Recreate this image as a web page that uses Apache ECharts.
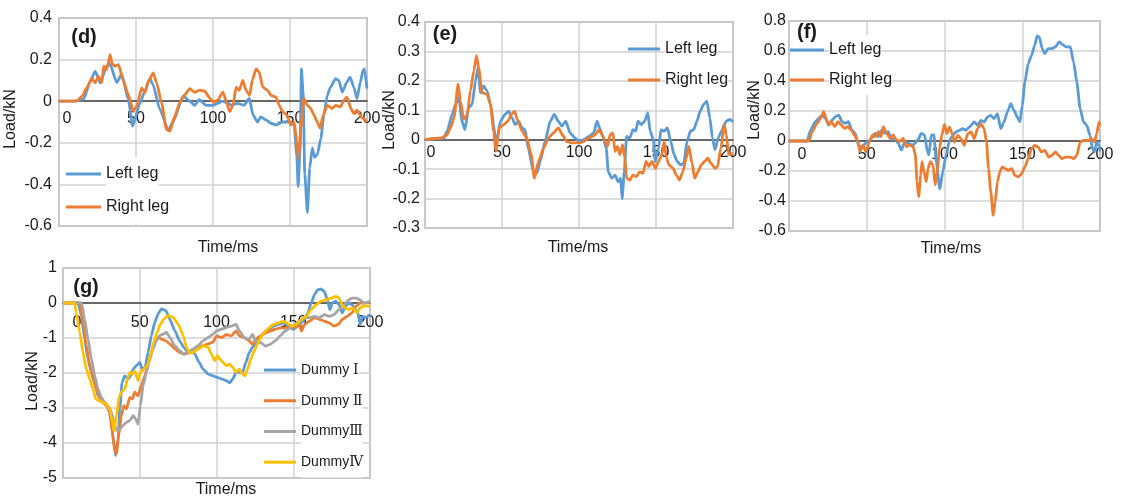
<!DOCTYPE html>
<html><head><meta charset="utf-8">
<script src="https://cdn.jsdelivr.net/npm/echarts@6/dist/echarts.min.js"></script>
<style>html,body{margin:0;padding:0;background:#fff}#c{width:1121px;height:497px}</style>
</head><body><div id="c"></div>
<script>
// ---------- data: [time (ms), load (kN)] ----------
const dLeft = [[0,0],[10,0],[16,0.01],[20,0.09],[23.5,0.144],[26.7,0.088],[31,0.168],[33,0.18],[37.5,0.09],[40.7,0.13],[45,0.01],[47.8,-0.12],[52.6,-0.01],[55.8,0.05],[59,0.11],[61,0.08],[65.5,-0.04],[71,-0.14],[74,-0.1],[80.6,0.024],[85,0],[88,-0.02],[91,0.008],[95.7,-0.02],[100,-0.02],[103,-0.01],[106,0],[110,-0.01],[112,-0.02],[116,-0.01],[120,-0.02],[123.6,0.013],[126,-0.067],[129,-0.1],[131,-0.075],[134.4,-0.09],[137.6,-0.106],[141,-0.114],[145,-0.1],[149.5,-0.1],[152.7,-0.114],[154.4,-0.26],[155.3,-0.41],[156.6,-0.225],[157.4,0.155],[158.5,0.044],[159.6,-0.35],[161.3,-0.535],[162.8,-0.32],[164.5,-0.225],[166,-0.27],[167.7,-0.257],[170,-0.18],[172,-0.067],[174.2,0.028],[176.3,0.068],[179.6,0.108],[181.7,0.1],[183.9,0.044],[187,0.092],[189,0.116],[191.4,0.068],[193.5,0.013],[195.7,0.092],[197.4,0.148],[198.3,0.155],[200,0.06]];
const dRight = [[0,0],[11.6,0],[15,0.024],[18,0.064],[21.3,0.11],[23.5,0.088],[25.6,0.12],[27.8,0.09],[29,0.168],[31,0.152],[33.2,0.224],[34.5,0.18],[36.4,0.168],[38.6,0.176],[41.8,0.096],[45,0.032],[48.3,-0.048],[50.4,-0.024],[53.7,0.064],[55.8,0.04],[58,0.096],[61.2,0.136],[63.4,0.088],[66.6,-0.008],[69.8,-0.136],[72,-0.144],[75.2,-0.072],[78.4,-0.008],[81.7,0.032],[85,0.06],[88,0.043],[91.4,0.053],[94.6,0.048],[97.8,0.016],[100,-0.005],[103,0.005],[106.5,0.044],[108.6,0],[110.8,-0.05],[113,-0.02],[115,0.068],[117,0.052],[119.4,0.1],[121.5,0.052],[123.7,0.028],[125.8,0.108],[128,0.155],[130,0.14],[132.3,0.068],[135.5,0.052],[137.6,0.028],[140.9,0.02],[143,-0.02],[145.2,-0.05],[148,-0.067],[150.5,-0.114],[152.7,-0.1],[154.4,-0.194],[155.5,-0.273],[157,-0.13],[159,0.013],[161.3,-0.02],[163.4,-0.035],[165.6,-0.067],[167.7,-0.1],[169.5,-0.13],[171.6,-0.067],[174.2,-0.02],[177.4,-0.035],[179.6,-0.02],[182.8,-0.027],[185,0.005],[187,0.02],[189.6,-0.035],[191.4,-0.06],[193.5,-0.043],[196.8,-0.08],[200,-0.1]];

const eLeft = [[0,0],[12.3,0.005],[14.4,0.03],[17.7,0.086],[19.8,0.12],[22,0.143],[24,0.063],[25.9,0.034],[28.4,0.109],[30.6,0.12],[32.8,0.2],[34.5,0.246],[36,0.16],[38,0.183],[40.3,0.166],[42.5,0.12],[44.6,0.051],[46,-0.017],[49,0.063],[52,0.086],[54.3,0.097],[56.5,0.074],[58.6,0.051],[60.8,0.063],[63,0.04],[65,0.034],[67,-0.029],[70.5,-0.109],[72.6,-0.114],[74.8,-0.074],[78,-0.006],[81.3,0.063],[84,0.086],[86.6,0.063],[88.8,0.046],[91.4,0.063],[94.2,0.023],[97.4,0.006],[100,-0.006],[103,0],[106.4,0.011],[109.6,0.023],[111.7,0.063],[113.4,0.04],[115.5,0.011],[117.7,-0.029],[119,-0.109],[121.3,-0.131],[123.4,-0.12],[125.5,-0.143],[127,-0.131],[128,-0.2],[129.4,-0.109],[130.9,0.011],[133,0.006],[135,0.034],[136.8,0.029],[138.3,0.063],[140.4,0.051],[142.6,0.063],[144.7,0.091],[146.2,0.029],[148.3,0],[149.6,-0.074],[151.7,-0.029],[153.2,0.034],[155.3,0.029],[157.4,0.04],[159.6,-0.006],[161.7,-0.051],[163.8,-0.074],[166,-0.086],[168,-0.08],[170.2,-0.006],[172.3,0.029],[174.5,0.034],[176.6,0.063],[178.7,0.097],[180.9,0.12],[183,0.131],[185,0.074],[186.6,0.006],[188.3,-0.034],[190.4,0.006],[192.6,0.029],[194.3,0.051],[195.7,0.063],[198,0.069],[200,0.06]];
const eRight = [[0,0],[10,0.005],[14,0.015],[16.6,0.04],[18.8,0.074],[21.5,0.189],[23,0.131],[25.2,0.069],[27.4,0.086],[29.5,0.166],[31.7,0.234],[33.4,0.286],[35,0.24],[37,0.16],[40.3,0.154],[42.5,0.12],[44.6,0.029],[46,-0.04],[48.3,0.04],[51,0.051],[53.9,0.063],[56,0.086],[58.2,0.097],[60.3,0.063],[63,0.029],[66,0.006],[69,-0.051],[71,-0.131],[73.7,-0.074],[77,-0.029],[80.2,0.006],[83.4,0.023],[86.6,0.04],[89.2,0.017],[92,-0.006],[95.3,-0.011],[100,-0.011],[103,-0.006],[106.4,0.006],[108.5,0.011],[110.6,0.017],[112.8,0.034],[115,0.017],[117,-0.006],[118.5,-0.023],[120.2,0.017],[122,0.023],[123.4,-0.04],[125,-0.023],[126.6,-0.051],[128.3,-0.017],[129.8,-0.063],[130.9,-0.131],[133,-0.137],[135,-0.12],[137.2,-0.126],[139.4,-0.109],[141.5,-0.114],[143.6,-0.074],[145.3,-0.091],[147.4,-0.074],[149.6,-0.097],[151.7,-0.074],[153.8,-0.051],[155.3,-0.006],[156.8,-0.063],[158.5,-0.086],[161,-0.097],[163.2,-0.12],[165.3,-0.137],[167.4,-0.109],[169.6,-0.063],[171.3,-0.023],[173.4,-0.08],[175.1,-0.131],[177.2,-0.109],[179.4,-0.086],[181.5,-0.074],[183.6,-0.063],[185.7,-0.08],[188.3,-0.097],[190,-0.091],[192.1,-0.029],[194.3,0.051],[195.7,0.017],[197.2,-0.051],[200,-0.046]];

const fLeft = [[0,0],[11.7,0],[13.8,0.073],[17,0.129],[19,0.151],[21.3,0.173],[23.4,0.151],[25.5,0.107],[27.7,0.14],[29.8,0.162],[32,0.173],[34,0.129],[36.2,0.118],[38.3,0.129],[40.4,0.073],[42.6,0.051],[44.7,-0.027],[46.8,-0.049],[49,-0.016],[51,-0.004],[53.2,0.018],[55.3,0.051],[57.4,0.029],[59.6,0.073],[61.7,0.051],[63.8,0.062],[66,0.007],[68,0.018],[70.2,-0.016],[72.3,-0.06],[74.5,-0.004],[76.6,-0.016],[79.8,-0.027],[83,0.007],[85,0.051],[87.2,0.04],[89,-0.071],[90,-0.093],[91.5,0.04],[93.2,0.04],[94.7,-0.138],[97,-0.32],[99,-0.2],[101,-0.096],[103.2,0.004],[105.3,0.038],[107.4,0.06],[109.6,0.071],[111.7,0.082],[113.8,0.071],[116,0.093],[119.1,0.127],[121.3,0.104],[123.4,0.138],[125.5,0.127],[127.7,0.16],[129.8,0.171],[131.9,0.149],[134,0.182],[136.2,0.082],[138.3,0.127],[140.4,0.193],[142.6,0.249],[144.7,0.204],[146.8,0.16],[148.5,0.127],[150,0.238],[151.7,0.393],[153.8,0.516],[156,0.571],[158,0.638],[159.6,0.7],[161,0.693],[162.8,0.616],[164.5,0.582],[166.6,0.616],[169.1,0.616],[171.3,0.627],[173.8,0.66],[176,0.642],[178,0.627],[180.9,0.627],[183,0.527],[185.1,0.393],[187.2,0.216],[189.4,0.127],[191.5,0.104],[193.6,0.038],[195.1,-0.051],[196.4,-0.073],[197.9,-0.007],[199.4,-0.029],[200,-0.07]];
const fRight = [[0,0],[12.8,0],[14.9,0.062],[18,0.118],[20.9,0.162],[22.3,0.196],[23.8,0.151],[25.5,0.107],[27.2,0.129],[29.4,0.096],[31.5,0.129],[33.6,0.107],[35.7,0.084],[37.9,0.096],[40,0.073],[42.1,0.04],[44.3,-0.004],[45.7,-0.071],[47.4,-0.027],[49.6,-0.071],[51.7,-0.004],[53.8,0.04],[55.7,0.029],[57.4,0.062],[59.1,0.029],[60.6,0.096],[62.8,0.051],[64.9,0.018],[67,0.04],[69.1,0.007],[71.3,-0.004],[73.4,0.018],[75.5,-0.038],[77.7,-0.027],[79.8,-0.038],[81.3,-0.093],[82.3,-0.271],[83.4,-0.371],[84.7,-0.227],[85.5,-0.138],[86.8,-0.204],[88.3,-0.271],[89.4,-0.182],[91,-0.138],[92.6,-0.16],[94,-0.293],[95.3,-0.204],[96.8,-0.049],[98.3,0.04],[100,0.11],[101.5,0.049],[103.2,0.093],[104.9,0.049],[106.4,-0.007],[108.5,0.038],[110.6,0.016],[112.8,-0.029],[114.9,0.049],[117,0.06],[119.1,0.016],[121.3,0.082],[123.4,0.116],[125.5,0.082],[127,-0.007],[128.3,-0.184],[129.8,-0.34],[131.3,-0.496],[132.6,-0.407],[134,-0.273],[135.5,-0.207],[137.2,-0.173],[138.9,-0.184],[141,-0.196],[143.2,-0.184],[145.3,-0.229],[147.4,-0.24],[149.6,-0.218],[151.7,-0.173],[153.8,-0.118],[156,-0.051],[158,-0.029],[160.2,-0.04],[162.3,-0.073],[164.5,-0.062],[167,-0.107],[169.1,-0.096],[171.3,-0.073],[173.4,-0.096],[175.5,-0.118],[177.7,-0.107],[180.9,-0.107],[183,-0.118],[185.1,-0.096],[187.2,-0.007],[189.4,0.004],[192.6,0.004],[194.7,0.016],[196.4,-0.007],[197.9,0.049],[199.4,0.127],[200,0.1]];

const gDummy1 = [[0,0],[9.8,0],[12,-0.36],[14.1,-1.03],[16.3,-1.6],[18.5,-1.98],[20.7,-2.27],[22.8,-2.65],[25,-2.74],[27.2,-2.89],[29.3,-2.93],[31.5,-3.41],[33,-3.98],[34.3,-4.36],[35.9,-3.89],[37,-3.03],[38.5,-2.27],[40.2,-2.08],[42.4,-2.17],[44.1,-2.08],[45.7,-1.89],[47.8,-1.79],[50,-1.7],[51.7,-1.89],[53.5,-1.84],[55.4,-1.41],[57.6,-0.93],[59.8,-0.55],[62,-0.31],[64.1,-0.17],[67,-0.22],[69.6,-0.46],[72.8,-0.79],[76,-1.08],[78.7,-1.27],[81.5,-1.41],[83.7,-1.36],[85.9,-1.46],[88.7,-1.7],[91.3,-1.89],[94.6,-2.03],[97.8,-2.08],[100,-2.12],[103.2,-2.17],[106.4,-2.22],[108.5,-2.28],[110.6,-2.17],[112.8,-1.98],[114.9,-1.98],[117,-1.98],[119.1,-1.7],[121.3,-1.42],[123.4,-1.27],[125.5,-1.18],[127.7,-1.04],[130.9,-0.85],[134,-0.75],[137.2,-0.66],[140.4,-0.61],[143.6,-0.57],[146.8,-0.66],[150,-0.75],[153.2,-0.66],[156.4,-0.52],[159.6,-0.28],[161.7,0],[163.8,0.24],[166,0.38],[168.1,0.4],[170.2,0.33],[172.3,0.09],[173.8,-0.19],[175.5,0],[177.7,0.05],[179.8,-0.05],[181.9,-0.28],[184,-0.09],[186.2,0],[188.3,-0.05],[190.4,-0.19],[192.1,-0.28],[193.6,-0.61],[195.1,-0.38],[196.8,-0.42],[200,-0.33]];
const gDummy2 = [[0,0],[10.9,0],[13,-0.55],[15.2,-1.22],[17.4,-1.79],[19.6,-2.17],[21.7,-2.46],[23.9,-2.7],[26,-2.84],[28.3,-2.93],[30.4,-3.12],[32.2,-3.7],[33.7,-4.22],[34.8,-4.31],[36.3,-3.79],[38,-3.22],[39.6,-2.93],[41.3,-3.03],[43.5,-2.7],[45.2,-2.74],[46.7,-2.55],[48.9,-2.65],[51,-2.36],[53.3,-2.08],[55.4,-1.74],[57.6,-1.41],[59.8,-1.12],[62,-0.98],[64.1,-1.03],[67,-1.08],[69.6,-1.17],[72.8,-1.31],[76,-1.41],[78.7,-1.46],[81.5,-1.43],[84.8,-1.41],[88,-1.27],[91.3,-1.22],[94.6,-1.17],[97.8,-1.12],[100,-0.94],[103.2,-0.99],[106.4,-0.9],[109.6,-0.94],[112.8,-0.8],[114.9,-0.94],[118.1,-0.99],[121.3,-1.08],[123.4,-1.18],[125.5,-1.04],[128.7,-0.94],[131.9,-0.85],[135.1,-0.8],[138.3,-0.75],[141.5,-0.71],[144.7,-0.71],[147.9,-0.66],[151,-0.71],[153.8,-0.61],[155.3,-0.8],[157.4,-0.61],[160.6,-0.52],[163.8,-0.42],[167,-0.47],[170.2,-0.52],[173.4,-0.57],[176.6,-0.66],[179.4,-0.61],[181.9,-0.47],[185.1,-0.38],[188.3,-0.28],[190.9,-0.09],[193.6,0],[196.8,0],[200,0.02]];
const gDummy3 = [[0,0],[12,0],[14.1,-0.46],[16.3,-1.03],[18.5,-1.6],[20.7,-2.08],[22.8,-2.46],[25,-2.7],[27.2,-2.84],[29.3,-2.93],[31.5,-3.12],[33.7,-3.5],[35.2,-3.65],[37,-3.6],[39.1,-3.5],[41.3,-3.41],[43.5,-3.36],[45.7,-3.22],[47.4,-3.31],[48.9,-3.46],[50.4,-2.93],[52.2,-2.36],[54.3,-1.98],[56.5,-1.6],[58.7,-1.31],[60.9,-1.08],[63,-0.93],[65.2,-0.89],[67.4,-0.84],[69.6,-0.98],[72.8,-1.22],[76,-1.36],[78.7,-1.46],[81.5,-1.41],[84.8,-1.31],[88,-1.22],[91.3,-1.08],[94.6,-0.98],[97.8,-0.89],[100,-0.8],[103.2,-0.75],[106.4,-0.7],[109.6,-0.66],[112.8,-0.61],[114.9,-0.8],[118.1,-0.99],[121.3,-1.04],[123.4,-0.9],[125.5,-1.08],[128.7,-1.13],[131.9,-1.23],[135.1,-1.18],[138.3,-1.08],[141.5,-0.94],[144.7,-0.8],[147.9,-0.71],[151,-0.61],[154.3,-0.52],[157.4,-0.42],[160.6,-0.42],[163.8,-0.38],[167,-0.42],[170.2,-0.33],[173.4,-0.38],[176.6,-0.33],[179.8,-0.19],[183,-0.05],[186.2,0.09],[188.3,0.14],[190.9,0.14],[193.6,0.09],[195.7,0],[200,0.05]];
const gDummy4 = [[0,0],[7.6,0],[8.7,-0.28],[10.9,-0.84],[13,-1.41],[15.2,-1.89],[17.4,-2.17],[19.6,-2.46],[21.3,-2.74],[23.5,-2.79],[25.7,-2.84],[28.3,-2.89],[30.4,-3.03],[32.2,-3.41],[33.3,-3.65],[34.8,-3.22],[36.5,-2.7],[38,-2.55],[40.2,-2.46],[42,-2.17],[43.5,-1.98],[45.2,-2.03],[46.7,-1.93],[48.9,-2.22],[50.4,-1.98],[52.6,-1.89],[54.8,-1.79],[57,-1.5],[59.1,-1.12],[61.3,-0.84],[63.5,-0.6],[65.7,-0.46],[68.5,-0.36],[71.7,-0.41],[75,-0.6],[78.3,-0.93],[80.4,-1.27],[82.6,-1.43],[84.8,-1.41],[88,-1.31],[91.3,-1.22],[94.6,-1.27],[96.7,-1.46],[98.9,-1.65],[100.5,-1.5],[102.1,-1.6],[104.3,-1.7],[106.4,-1.79],[108.5,-1.75],[110.6,-1.84],[112.8,-1.98],[114.9,-1.89],[117,-2.03],[118.5,-2.08],[120.2,-1.89],[122.3,-1.6],[124.5,-1.37],[126.6,-1.18],[128.7,-0.99],[130.9,-0.85],[134,-0.71],[137.2,-0.61],[140.4,-0.57],[143.6,-0.52],[145.7,-0.57],[148.9,-0.66],[152.1,-0.61],[155.3,-0.47],[158.5,-0.38],[161.7,-0.19],[164.9,-0.05],[168.1,0.05],[171.3,0.09],[174.5,0.14],[177.7,0.19],[179.8,0.14],[181.9,-0.05],[184,-0.14],[186.2,-0.19],[188.7,-0.14],[191.5,-0.28],[193.6,-0.14],[195.7,-0.09],[200,-0.09]];

const legNames = ['Left leg', 'Right leg'];
const dummyNames = ['Dummy Ⅰ', 'Dummy Ⅱ', 'DummyⅢ', 'DummyⅣ'];
const panelLabels = ['(d)', '(e)', '(f)', '(g)'];
const xName = 'Time/ms';
const yName = 'Load/kN';
const yRanges = [[-0.6, 0.4, 0.2], [-0.3, 0.4, 0.1], [-0.6, 0.8, 0.2], [-5, 1, 1]];

// ---------- styling ----------
const FONT = '"Liberation Sans", Arial, sans-serif';
const TXT = '#1a1a1a';
const GRIDC = '#d2d2d2';
const COL = { left: '#5B9BD5', right: '#ED7D31', d3: '#A5A5A5', d4: '#FFC000' };

const gridBoxes = [
  { left: 59, top: 18, width: 308, height: 208 },
  { left: 425, top: 22, width: 308, height: 206 },
  { left: 789, top: 21, width: 311, height: 210 },
  { left: 63, top: 268, width: 307, height: 210 }
];
const grids = gridBoxes.map(g => Object.assign({}, g, { show: true, borderColor: '#8e8e8e', borderWidth: 1.5 }));

function xAx(gi, margin, zeroPad) {
  const r = yRanges[gi];
  // lift the axis (line + labels) from the grid bottom up to y = 0
  const lift = gridBoxes[gi].height * (0 - r[0]) / (r[1] - r[0]);
  return {
    type: 'value', gridIndex: gi, min: 0, max: 200, interval: 50,
    position: 'bottom', offset: -lift,
    axisLine: { onZero: false, lineStyle: { color: '#404040', width: 1.5 } },
    axisTick: { show: false },
    splitLine: { show: true, lineStyle: { color: GRIDC, width: 1.5 } },
    axisLabel: {
      margin, fontSize: 16, fontFamily: FONT, color: TXT,
      showMinLabel: true, showMaxLabel: true, hideOverlap: false,
      formatter: v => (v === 0 ? '{z|0}' : String(v)),
      rich: { z: { padding: [0, 0, 0, zeroPad], fontSize: 16, fontFamily: FONT, color: TXT } }
    }
  };
}
function yAx(gi, margin) {
  const r = yRanges[gi];
  return {
    type: 'value', gridIndex: gi, min: r[0], max: r[1], interval: r[2],
    axisLine: { show: false }, axisTick: { show: false },
    splitLine: { show: true, lineStyle: { color: GRIDC, width: 1.5 } },
    axisLabel: { margin, fontSize: 16, fontFamily: FONT, color: TXT,
      formatter: v => String(Math.round(v * 10) / 10) }
  };
}
function ser(name, gi, data, color) {
  return { type: 'line', name, xAxisIndex: gi, yAxisIndex: gi, data, symbol: 'none',
    smooth: 0.2, smoothMonotone: 'x',
    lineStyle: { width: 2.8, color }, itemStyle: { color }, emphasis: { disabled: true } };
}
function leg(names, left, top, rowH, iconW, fs) {
  return { data: names.map(n => ({ name: n, icon: 'rect' })), orient: 'vertical', left, top, padding: 0, itemGap: 0,
    itemWidth: iconW, itemHeight: 3, selectedMode: false,
    textStyle: { fontSize: fs, fontFamily: FONT + ', "DejaVu Serif"', color: TXT, lineHeight: rowH, backgroundColor: '#fff' } };
}
function txt(text, x, y, opts) {
  return Object.assign({ type: 'text', x, y, z: 10,
    style: Object.assign({ text, fontSize: 16, fontFamily: FONT, fill: TXT, align: 'center', verticalAlign: 'middle' }, opts && opts.style) },
    opts && opts.el);
}

const option = {
  backgroundColor: '#fff',
  animation: false,
  grid: grids,
  xAxis: [xAx(0, 9, 16), xAx(1, 5, 12), xAx(2, 6, 26), xAx(3, 12, 28)],
  yAxis: [yAx(0, 7), yAx(1, 5), yAx(2, 3), yAx(3, 6)],
  legend: [
    leg(legNames, 66, 157.5, 33, 35, 16),
    leg(legNames, 628, 33.5, 31, 32, 16),
    leg(legNames, 790, 35, 30, 34, 16),
    leg(dummyNames, 264, 354.7, 30.7, 32, 14)
  ],
  series: [
    ser(legNames[0], 0, dLeft, COL.left), ser(legNames[1], 0, dRight, COL.right),
    ser(legNames[0], 1, eLeft, COL.left), ser(legNames[1], 1, eRight, COL.right),
    ser(legNames[0], 2, fLeft, COL.left), ser(legNames[1], 2, fRight, COL.right),
    ser(dummyNames[0], 3, gDummy1, COL.left), ser(dummyNames[1], 3, gDummy2, COL.right),
    ser(dummyNames[2], 3, gDummy3, COL.d3), ser(dummyNames[3], 3, gDummy4, COL.d4)
  ],
  graphic: [
    txt(panelLabels[0], 84, 37, { style: { fontSize: 20, fontWeight: 'bold' } }),
    txt(panelLabels[1], 445, 34, { style: { fontSize: 20, fontWeight: 'bold' } }),
    txt(panelLabels[2], 807, 32, { style: { fontSize: 20, fontWeight: 'bold' } }),
    txt(panelLabels[3], 86, 287, { style: { fontSize: 20, fontWeight: 'bold' } }),
    txt(xName, 228, 248), txt(xName, 578, 248), txt(xName, 951, 249), txt(xName, 226, 490),
    txt(yName, 11, 119, { el: { rotation: Math.PI / 2 } }),
    txt(yName, 390, 120, { el: { rotation: Math.PI / 2 } }),
    txt(yName, 755, 110, { el: { rotation: Math.PI / 2 } }),
    txt(yName, 33, 381, { el: { rotation: Math.PI / 2 } })
  ]
};

const chart = echarts.init(document.getElementById('c'), null, { renderer: 'canvas' });
chart.setOption(option);
</script>
</body></html>
